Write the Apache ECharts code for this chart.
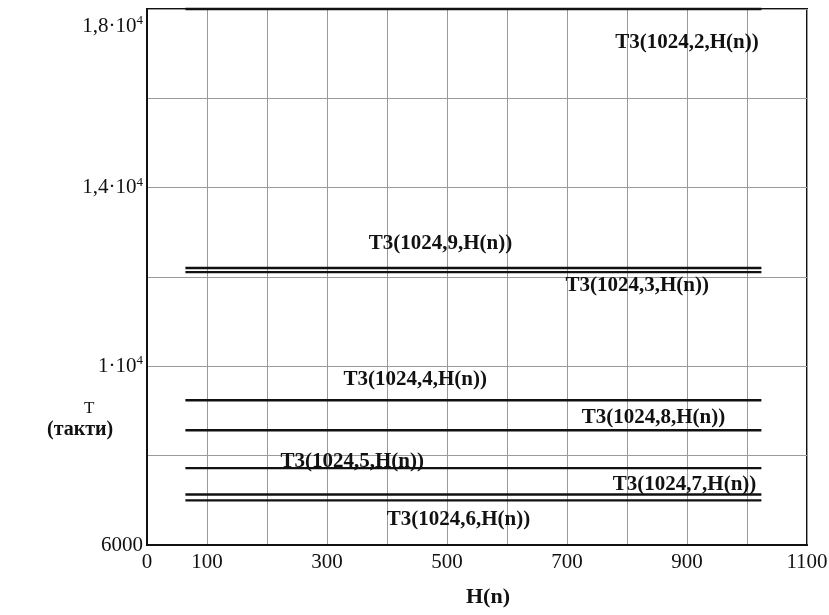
<!DOCTYPE html>
<html>
<head>
<meta charset="utf-8">
<script src="https://cdn.jsdelivr.net/npm/echarts@6/dist/echarts.min.js"></script>
<style>
html,body{margin:0;padding:0;background:#fff;}
#chart{width:829px;height:615px;}
</style>
</head>
<body>
<div id="chart"></div>
<script>
// ---- data ----
var hPoints = [64, 1024];                 // H(n) range of each curve
var seriesNames = ['T3(1024,2,H(n))','T3(1024,9,H(n))','T3(1024,3,H(n))','T3(1024,4,H(n))',
                   'T3(1024,8,H(n))','T3(1024,5,H(n))','T3(1024,7,H(n))','T3(1024,6,H(n))'];
var t3_m2 = [18000, 18000];
var t3_m9 = [12200, 12200];
var t3_m3 = [12110, 12110];
var t3_m4 = [9240, 9240];
var t3_m8 = [8570, 8570];
var t3_m5 = [7720, 7720];
var t3_m7 = [7130, 7130];
var t3_m6 = [7000, 7000];
var xTickLabels = [0, 100, 300, 500, 700, 900, 1100];
var yTickLabels = {6000: '6000', 10000: '{n|1·10}{s|4}', 14000: '{n|1,4·10}{s|4}', 18000: '{g| }\n{n|1,8·10}{s|4}'};

var seriesValues = [t3_m2, t3_m9, t3_m3, t3_m4, t3_m8, t3_m5, t3_m7, t3_m6];
// label anchor (data coords) for each curve's annotation
var labelAnchors = [[900,17240],[489,12740],[817,11800],[447,9710],[844,8850],[342,7865],[896,7350],[519,6560]];

var serif = '"Liberation Serif","DejaVu Serif",serif';

var chart = echarts.init(document.getElementById('chart'), null, {renderer:'canvas'});

var series = seriesValues.map(function(vals, i){
  return {
    name: seriesNames[i],
    type: 'line',
    symbol: 'none',
    silent: true,
    clip: false,
    lineStyle: {color:'#111', width: 2.4},
    data: hPoints.map(function(h, k){ return [h, vals[k]]; }),
    markPoint: {
      symbol: 'rect', symbolSize: 1,
      itemStyle: {color: 'rgba(0,0,0,0)'},
      silent: true,
      label: {
        show: true, position: 'inside',
        formatter: seriesNames[i],
        color: '#111', fontFamily: serif, fontWeight: 'bold', fontSize: 21
      },
      data: [{coord: labelAnchors[i]}]
    }
  };
});

var option = {
  backgroundColor: '#fff',
  animation: false,
  grid: {left: 147, right: 22, top: 9, bottom: 70, show: true, borderColor: '#111', borderWidth: 2,
         backgroundColor: 'transparent', containLabel: false, outerBoundsMode: 'none'},
  xAxis: {
    type: 'value', min: 0, max: 1100, interval: 100,
    name: 'H(n)', nameLocation: 'middle', nameGap: 41,
    nameTextStyle: {fontFamily: serif, fontWeight: 'bold', fontSize: 22, color: '#111', padding: [0,0,0,22]},
    axisLine: {show: true, lineStyle: {color:'#111', width: 2}},
    axisTick: {show: false},
    splitLine: {show: true, lineStyle: {color: '#9a9a9a', width: 1}},
    axisLabel: {
      margin: 7, color: '#111', fontFamily: serif, fontSize: 21,
      formatter: function(v){ return xTickLabels.indexOf(v) >= 0 ? String(v) : ''; }
    }
  },
  yAxis: {
    type: 'value', min: 6000, max: 18000, interval: 2000,
    axisLine: {show: true, lineStyle: {color:'#111', width: 2}},
    axisTick: {show: false},
    splitLine: {show: true, lineStyle: {color: '#9a9a9a', width: 1}},
    axisLabel: {
      margin: 4, color: '#111', fontFamily: serif, fontSize: 21,
      formatter: function(v){ return yTickLabels[v] || ''; },
      rich: {
        n: {fontFamily: serif, fontSize: 21, color: '#111', lineHeight: 24},
        s: {fontFamily: serif, fontSize: 13, color: '#111', verticalAlign: 'top', lineHeight: 24},
        g: {fontSize: 10, lineHeight: 34}
      }
    }
  },
  graphic: [
    {type: 'text', left: 84, top: 400, style: {text: 'T', font: '17px "Liberation Serif", serif', fill: '#111'}},
    {type: 'text', left: 47, top: 420, style: {text: '(такти)', font: 'bold 20px "Liberation Serif", serif', fill: '#111'}}
  ],
  series: series
};
chart.setOption(option);
</script>
</body>
</html>
